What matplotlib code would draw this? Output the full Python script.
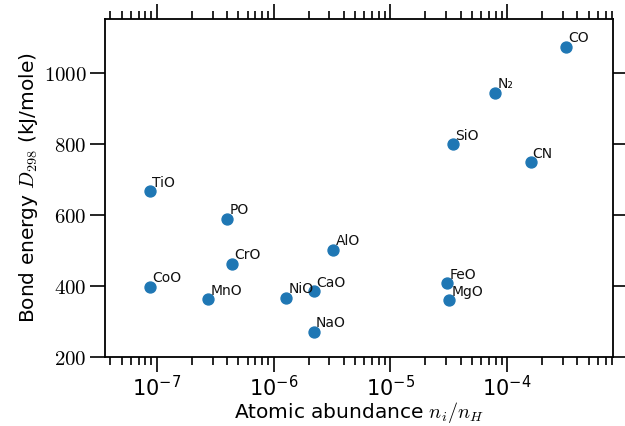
import numpy as np
import matplotlib
matplotlib.use("Agg")
import matplotlib.pyplot as plt
from matplotlib.ticker import FixedLocator, FuncFormatter

plt.rcParams['mathtext.fontset'] = 'cm'
plt.rcParams['font.family'] = 'DejaVu Sans'

# molecules, atomic abundance n_i/n_H, bond energy (kJ/mole)
molecules = ["TiO", "CoO", "PO", "CrO", "MnO", "NiO", "CaO", "NaO", "AlO",
             "FeO", "MgO", "SiO", "N₂", "CN", "CO"]
abundance = [8.7e-8, 8.7e-8, 4.0e-7, 4.45e-7, 2.77e-7, 1.29e-6, 2.24e-6, 2.22e-6,
             3.25e-6, 3.08e-5, 3.2e-5, 3.43e-5, 7.96e-5, 1.59e-4, 3.2e-4]
bond_energy = [667, 397, 589, 462, 362, 366, 384, 270, 502,
               408, 360, 799, 945, 749, 1075]

yticks = [200, 400, 600, 800, 1000]

fig = plt.figure(figsize=(6.25, 4.26), dpi=100)
ax = fig.add_axes([0.168, 0.1627, 0.813, 0.792])

ax.scatter(abundance, bond_energy, s=62, color="#1f77b4", zorder=3)
for name, x, y in zip(molecules, abundance, bond_energy):
    ax.annotate(name, (x, y), xytext=(1.5, 1.0), textcoords="offset points",
                ha="left", va="bottom", fontsize=10, color="#111111")

ax.set_xscale("log")
ax.set_xlim(3.6e-8, 8.1e-4)
ax.set_ylim(200, 1152)
ax.yaxis.set_major_locator(FixedLocator(yticks))
ax.yaxis.set_major_formatter(FuncFormatter(lambda v, p: r"$%d$" % v))

ax.tick_params(which="both", direction="out", top=True, right=True,
               labelsize=15, width=1.2)
ax.tick_params(which="major", length=11, pad=2)
ax.tick_params(which="minor", length=6)
for sp in ax.spines.values():
    sp.set_linewidth(1.3)

ax.set_xlabel(r"Atomic abundance $n_i/n_H$", fontsize=14.5, labelpad=0)
ax.set_ylabel(r"Bond energy $D_{298}$ (kJ/mole)", fontsize=14.5, labelpad=3)

fig.savefig("out.png", dpi=100)
